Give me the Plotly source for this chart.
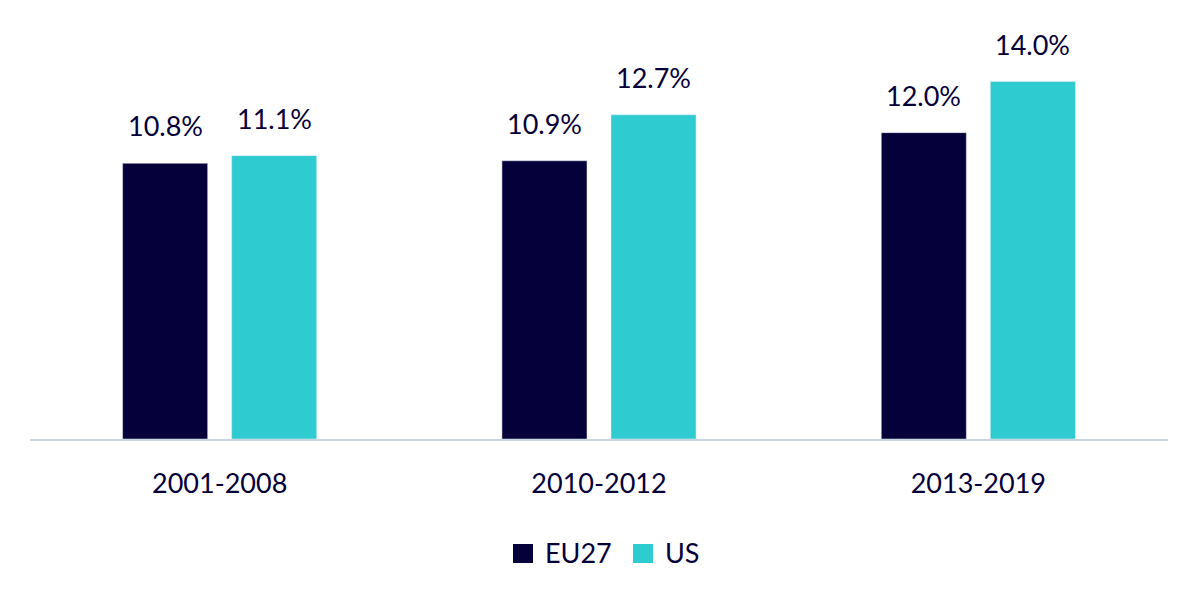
import plotly.graph_objects as go

categories = ["2001-2008", "2010-2012", "2013-2019"]
eu27 = [10.8, 10.9, 12.0]
us = [11.1, 12.7, 14.0]
series_names = ["EU27", "US"]

NAVY = "#06003a"
TEAL = "#2ecbd1"
FONT = "Lato"

W, H = 1200, 602
ML, MR, MT, MB = 22, 40, 20, 171
PW, PH = W - ML - MR, H - MT - MB


def px(xf):
    return (xf - ML) / PW


def py(yf):
    return (H - MB - yf) / PH


fig = go.Figure()
fig.add_trace(go.Bar(name=series_names[0], x=categories, y=eu27, marker_color=NAVY, showlegend=False))
fig.add_trace(go.Bar(name=series_names[1], x=categories, y=us, marker_color=TEAL, showlegend=False))

for series, shift in ((eu27, -54.5), (us, 54.5)):
    for c, v in zip(categories, series):
        fig.add_annotation(x=c, y=v, xref="x", yref="y", text=f"{v:.1f}%",
                           showarrow=False, xshift=shift, yshift=19, yanchor="bottom",
                           font=dict(color=NAVY, size=27, family=FONT))

# manual legend (larger squares than plotly's default legend symbols)
legend_items = [(series_names[0], NAVY, 505), (series_names[1], TEAL, 625)]
for name, col, x0 in legend_items:
    fig.add_shape(type="rect", xref="paper", yref="paper",
                  x0=px(x0), x1=px(x0 + 20), y0=py(555), y1=py(536),
                  fillcolor=col, line=dict(width=0))
    fig.add_annotation(xref="paper", yref="paper", x=px(x0 + 30), y=py(544),
                       xanchor="left", yanchor="middle", text=name, showarrow=False,
                       font=dict(size=27, color=NAVY, family=FONT))

fig.update_layout(
    width=W, height=H,
    paper_bgcolor="white", plot_bgcolor="white",
    barmode="group", bargap=0.425, bargroupgap=0.22,
    margin=dict(l=ML, r=MR, t=MT, b=MB),
    font=dict(family=FONT, color=NAVY, size=26),
    showlegend=False,
)
fig.update_xaxes(showline=True, linecolor="#c8d4e0", linewidth=2, showgrid=False,
                 ticks="", tickfont=dict(size=27, color=NAVY, family=FONT), ticklabelstandoff=20)
fig.update_yaxes(visible=False, range=[0, 16.1], showgrid=False, zeroline=False)

fig.write_html("out.html")
